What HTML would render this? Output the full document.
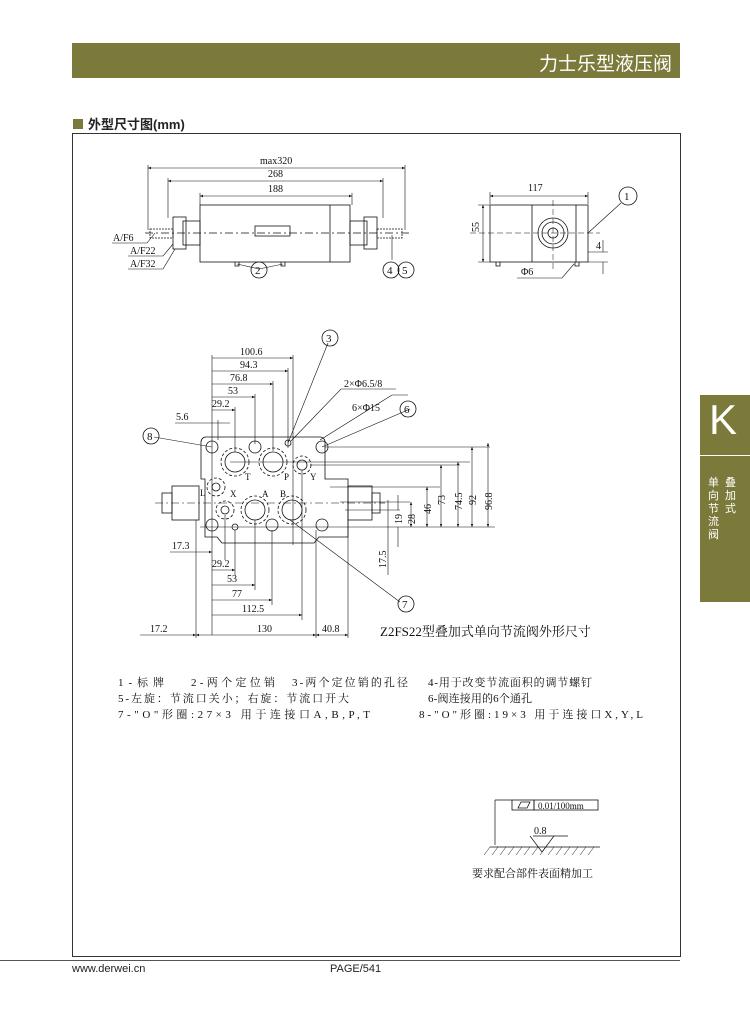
<!DOCTYPE html>
<html><head><meta charset="utf-8"><style>
body{margin:0;background:#fff;width:750px;height:1018px;position:relative;overflow:hidden;font-family:"Liberation Sans","Noto Sans CJK SC",sans-serif}
.hdr{position:absolute;left:72px;top:43px;width:608px;height:35px;background:#7b7a3a}
.hdr span{position:absolute;right:8px;top:6px;color:#fff;font-size:19px}
.sec{position:absolute;left:73px;top:114px;font-size:13px;font-weight:bold;color:#222}
.sec i{display:inline-block;width:10px;height:10px;background:#7b7a3a;margin-right:5px}
.frame{position:absolute;left:72px;top:133px;width:607px;height:822px;border:1px solid #333}
.tab{position:absolute;left:700px;top:395px;width:50px;height:207px;background:#7b7a3a;color:#fff}
.ft{position:absolute;top:963px;font-size:11px;color:#222}
</style></head><body>
<div class="hdr"><span>力士乐型液压阀</span></div>
<div class="sec"><i></i>外型尺寸图(mm)</div>
<div class="frame"></div>
<div class="tab">
<div style="position:absolute;left:9px;top:0;font-size:42px;line-height:50px">K</div>
<div style="position:absolute;left:0;top:60px;width:50px;border-top:1px solid #fff"></div>
<div style="position:absolute;left:25px;top:82px;width:12px;font-size:11px;line-height:13px">叠加式</div>
<div style="position:absolute;left:8px;top:82px;width:12px;font-size:11px;line-height:13px">单向节流阀</div>
</div>
<div style="position:absolute;left:0;top:960px;width:680px;border-top:1px solid #555"></div>
<div class="ft" style="left:72px">www.derwei.cn</div>
<div class="ft" style="left:330px">PAGE/541</div>
<svg width="750" height="1018" style="position:absolute;left:0;top:0" font-family="Liberation Serif,Noto Serif CJK SC,serif" font-size="10" fill="none" stroke="#111" stroke-width="0.8">
<defs><marker id="a" markerWidth="6" markerHeight="6" refX="5" refY="3" orient="auto-start-reverse"><path d="M0,1L5,3L0,5z" fill="#111" stroke="none"/></marker></defs>
<rect x="200" y="205" width="150" height="57"/>
<line x1="330" y1="205" x2="330" y2="262"/>
<rect x="255" y="226" width="35" height="10"/>
<rect x="183" y="221" width="17" height="24"/><rect x="173" y="217" width="13" height="32"/>
<rect x="350" y="221" width="17" height="24"/><rect x="364" y="217" width="13" height="32"/>
<rect x="150" y="229" width="23" height="9" stroke-dasharray="2 1"/><rect x="377" y="229" width="25" height="9" stroke-dasharray="2 1"/>
<line x1="145" y1="233" x2="410" y2="233" stroke-dasharray="8 3 2 3"/>
<path d="M235 262v4h4v-4M281 262v4h4v-4"/>
<g stroke-width="0.6"><line x1="148" y1="168" x2="405" y2="168" marker-start="url(#a)" marker-end="url(#a)"/>
<line x1="168" y1="181" x2="383" y2="181" marker-start="url(#a)" marker-end="url(#a)"/>
<line x1="200" y1="196" x2="352" y2="196" marker-start="url(#a)" marker-end="url(#a)"/>
<path d="M148 165v65M405 165v65M168 178v40M383 178v40M200 193v12M352 193v12"/>
<path d="M112 243h35l8-10M128 256h35l10-12M128 269h35l12-20M237 264l22 5M283 264l-24 5M392 260v-25"/></g>
<g fill="#111" stroke="none"><text x="260" y="164">max320</text><text x="268" y="177">268</text><text x="268" y="192">188</text>
<text x="113" y="241">A/F6</text><text x="130" y="254">A/F22</text><text x="130" y="267">A/F32</text></g>
<circle cx="259" cy="270" r="8"/><circle cx="391" cy="270" r="8"/><circle cx="406" cy="270" r="8"/>
<g fill="#111" stroke="none" font-size="11"><text x="255" y="274">2</text><text x="387" y="274">4</text><text x="402" y="274">5</text></g>
<rect x="490" y="205" width="98" height="57"/><path d="M532 205v57M576 205v57"/>
<circle cx="553" cy="233" r="15"/><circle cx="553" cy="233" r="11"/><circle cx="553" cy="233" r="5"/>
<path d="M470 233h130M553 200v70" stroke-dasharray="6 3" stroke-width="0.5"/>
<g stroke-width="0.6"><line x1="490" y1="196" x2="588" y2="196" marker-start="url(#a)" marker-end="url(#a)"/>
<path d="M490 192v12M588 192v12M478 205h12M478 262h12"/><line x1="483" y1="205" x2="483" y2="262" marker-start="url(#a)" marker-end="url(#a)"/>
<path d="M588 252h20M588 262h20M603 240v12M603 262v12M588 233l33-30M517 278h45l12-14"/></g>
<path d="M496 262v4h4v-4M575 262v4h4v-4"/>
<circle cx="628" cy="196" r="9"/>
<g fill="#111" stroke="none"><text x="528" y="191">117</text><text x="479" y="240" transform="rotate(-90 475 236)">55</text><text x="596" y="249">4</text><text x="521" y="275">Φ6</text><text x="624" y="200" font-size="11">1</text></g>
<path d="M206 437h114a5 5 0 0 1 5 5v37h23v58h-29l-5 6h-92l-5-6h-12v-58h-4v-37a5 5 0 0 1 5-5z"/>
<rect x="172" y="486" width="27" height="34"/><rect x="348" y="486" width="24" height="34"/>
<rect x="162" y="493" width="10" height="20"/><rect x="372" y="493" width="8" height="20"/>
<line x1="155" y1="503" x2="385" y2="503" stroke-dasharray="8 3 2 3" stroke-width="0.6"/>
<g><circle cx="212" cy="447" r="6"/><circle cx="322" cy="447" r="6"/><circle cx="255" cy="447" r="6"/>
<circle cx="235" cy="462" r="10"/><circle cx="235" cy="462" r="14" stroke-dasharray="3 2"/>
<circle cx="273" cy="462" r="10"/><circle cx="273" cy="462" r="14" stroke-dasharray="3 2"/>
<circle cx="302" cy="465" r="5"/><circle cx="302" cy="465" r="9" stroke-dasharray="3 2"/>
<circle cx="216" cy="487" r="4"/><circle cx="216" cy="487" r="9" stroke-dasharray="3 2"/>
<circle cx="225" cy="510" r="4"/><circle cx="225" cy="510" r="9" stroke-dasharray="3 2"/>
<circle cx="255" cy="510" r="10"/><circle cx="255" cy="510" r="14" stroke-dasharray="3 2"/>
<circle cx="292" cy="510" r="10"/><circle cx="292" cy="510" r="14" stroke-dasharray="3 2"/>
<circle cx="212" cy="525" r="6"/><circle cx="272" cy="525" r="6"/><circle cx="322" cy="525" r="6"/>
<circle cx="235" cy="527" r="3"/><circle cx="288" cy="443" r="3"/></g>
<g fill="#111" stroke="none" font-size="9"><text x="245" y="480">T</text><text x="284" y="480">P</text><text x="310" y="480">Y</text>
<text x="200" y="496">L</text><text x="230" y="497">X</text><text x="262" y="497">A</text><text x="280" y="497">B</text></g>
<g stroke-width="0.6">
<line x1="212" y1="358" x2="293" y2="358" marker-end="url(#a)"/><line x1="212" y1="371" x2="288" y2="371" marker-end="url(#a)"/>
<line x1="212" y1="384" x2="273" y2="384" marker-end="url(#a)"/><line x1="212" y1="397" x2="255" y2="397" marker-end="url(#a)"/>
<line x1="212" y1="410" x2="235" y2="410" marker-end="url(#a)"/><line x1="175" y1="423" x2="230" y2="423"/>
<path d="M212 355v280M293 355v190M288 368v80M273 381v70M255 394v50M235 407v45M218 420v20"/>
<path d="M325 447h165M310 465h150M230 462h240M330 487h110M340 502h70M345 510h55M200 527h295"/>
<line x1="488" y1="443" x2="488" y2="527" marker-start="url(#a)" marker-end="url(#a)"/>
<line x1="472" y1="447" x2="472" y2="527" marker-start="url(#a)" marker-end="url(#a)"/>
<line x1="458" y1="462" x2="458" y2="527" marker-start="url(#a)" marker-end="url(#a)"/>
<line x1="441" y1="465" x2="441" y2="527" marker-start="url(#a)" marker-end="url(#a)"/>
<line x1="427" y1="487" x2="427" y2="527" marker-start="url(#a)" marker-end="url(#a)"/>
<line x1="411" y1="502" x2="411" y2="527" marker-start="url(#a)" marker-end="url(#a)"/>
<path d="M398 495v15M398 527v20M388 500v75"/>
<line x1="170" y1="552" x2="212" y2="552" marker-end="url(#a)"/>
<line x1="212" y1="570" x2="235" y2="570" marker-end="url(#a)"/>
<line x1="212" y1="585" x2="255" y2="585" marker-end="url(#a)"/>
<line x1="212" y1="600" x2="272" y2="600" marker-end="url(#a)"/>
<line x1="212" y1="615" x2="302" y2="615" marker-end="url(#a)"/>
<line x1="196" y1="635" x2="316" y2="635" marker-start="url(#a)" marker-end="url(#a)"/>
<line x1="140" y1="635" x2="196" y2="635" marker-end="url(#a)"/><line x1="316" y1="635" x2="348" y2="635" marker-start="url(#a)" marker-end="url(#a)"/>
<path d="M196 520v118M225 515v45M235 530v45M255 520v70M272 530v75M302 470v150M316 530v108M348 520v118"/>
<path d="M288 443l40-100M291 441l50-52h55M320 440l72-45h16M322 447l88-38M212 447l-58-10M290 520l110 82"/>
</g>
<circle cx="330" cy="338" r="8"/><circle cx="408" cy="409" r="8"/><circle cx="151" cy="436" r="8"/><circle cx="406" cy="604" r="8"/>
<g fill="#111" stroke="none"><text x="326" y="342" font-size="11">3</text><text x="404" y="413" font-size="11">6</text><text x="147" y="440" font-size="11">8</text><text x="402" y="608" font-size="11">7</text>
<text x="240" y="355">100.6</text><text x="240" y="368">94.3</text><text x="230" y="381">76.8</text><text x="228" y="394">53</text><text x="212" y="407">29.2</text><text x="176" y="420">5.6</text>
<text x="344" y="387">2×Φ6.5/8</text><text x="352" y="411">6×Φ15</text>
<text x="172" y="549">17.3</text><text x="212" y="567">29.2</text><text x="227" y="582">53</text><text x="232" y="597">77</text><text x="242" y="612">112.5</text>
<text x="150" y="632">17.2</text><text x="257" y="632">130</text><text x="322" y="632">40.8</text>
<g transform="rotate(-90)"><text x="-524" y="402">19</text><text x="-524" y="415">28</text><text x="-514" y="431">46</text><text x="-505" y="445">73</text><text x="-510" y="462">74.5</text><text x="-505" y="476">92</text><text x="-510" y="492">96.8</text><text x="-568" y="386">17.5</text></g>
<text x="380" y="636" font-size="13">Z2FS22型叠加式单向节流阀外形尺寸</text>
<g font-size="11" lengthAdjust="spacing">
<text x="118" y="686" textLength="46" lengthAdjust="spacing">1-标牌</text>
<text x="191" y="686" textLength="84" lengthAdjust="spacing">2-两个定位销</text>
<text x="292" y="686" textLength="116" lengthAdjust="spacing">3-两个定位销的孔径</text>
<text x="428" y="686" textLength="164" lengthAdjust="spacing">4-用于改变节流面积的调节螺钉</text>
<text x="118" y="702" textLength="231" lengthAdjust="spacing">5-左旋：节流口关小；右旋：节流口开大</text>
<text x="428" y="702" textLength="104" lengthAdjust="spacing">6-阀连接用的6个通孔</text>
<text x="118" y="718" textLength="252" lengthAdjust="spacing">7-"O"形圈:27×3 用于连接口A,B,P,T</text>
<text x="419" y="718" textLength="224" lengthAdjust="spacing">8-"O"形圈:19×3 用于连接口X,Y,L</text>
</g>
</g>
<rect x="512" y="800" width="22" height="10"/><rect x="534" y="800" width="64" height="10"/>
<path d="M518 808l3-6h9l-3 6z"/>
<path d="M495 800h17M495 800v45M490 847h110M530 836l12 16l12-16M533 836h35" stroke-width="0.7"/>
<path d="M490 847l-6 8M498 847l-6 8M506 847l-6 8M514 847l-6 8M522 847l-6 8M530 847l-6 8M538 847l-6 8M546 847l-6 8M554 847l-6 8M562 847l-6 8M570 847l-6 8M578 847l-6 8M586 847l-6 8M594 847l-6 8" stroke-width="0.5"/>
<g fill="#111" stroke="none"><text x="538" y="809" font-size="9">0.01/100mm</text><text x="534" y="834">0.8</text>
<text x="472" y="877" font-size="11">要求配合部件表面精加工</text></g>
</svg>
</body></html>
